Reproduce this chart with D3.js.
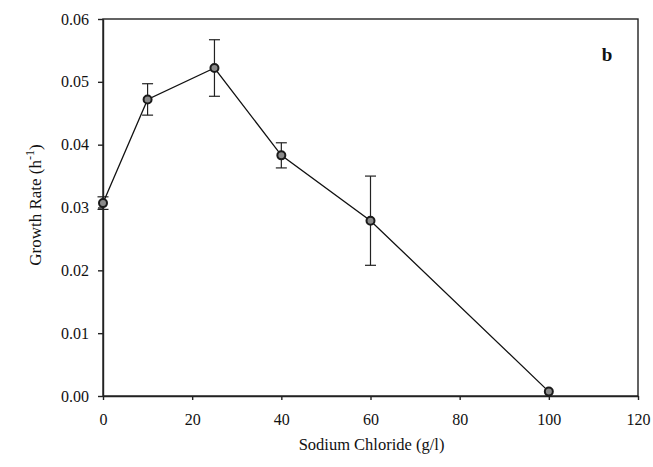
<!DOCTYPE html>
<html>
<head>
<meta charset="utf-8">
<script src="https://cdn.jsdelivr.net/npm/d3@7"></script>
<style>
  html, body { margin: 0; padding: 0; background: #fff; }
  svg { display: block; }
</style>
</head>
<body>
<svg id="chart" width="653" height="467"></svg>
<script>
// Growth rate versus NaCl concentration
const nacl = [0, 10, 25, 40, 60, 100];
const growthRate = [0.0307, 0.0472, 0.0522, 0.0383, 0.0279, 0.0007];
const stdErr = [0.0010, 0.0025, 0.0045, 0.0020, 0.0071, 0.0000];
const xTicks = [0, 20, 40, 60, 80, 100, 120];
const yTicks = [0.00, 0.01, 0.02, 0.03, 0.04, 0.05, 0.06];

const FONT = '"Liberation Serif", "Times New Roman", serif';
const margin = { left: 103, top: 19, right: 15, bottom: 71 };
const W = 653, H = 467;
const svg = d3.select("#chart");

const x = d3.scaleLinear().domain([0, 120]).range([margin.left, W - margin.right]);
const y = d3.scaleLinear().domain([0, 0.06]).range([H - margin.bottom, margin.top]);

// frame
svg.append("rect")
  .attr("x", x(0)).attr("y", y(0.06))
  .attr("width", x(120) - x(0)).attr("height", y(0) - y(0.06))
  .attr("fill", "none").attr("stroke", "#222").attr("stroke-width", 1.4);

// axes
const xAxis = svg.append("g")
  .attr("transform", `translate(0,${y(0)})`)
  .call(d3.axisBottom(x).tickValues(xTicks).tickFormat(d3.format("d")).tickSizeOuter(0).tickSizeInner(4).tickPadding(14));
const yAxis = svg.append("g")
  .attr("transform", `translate(${x(0)},0)`)
  .call(d3.axisLeft(y).tickValues(yTicks).tickFormat(d3.format(".2f")).tickSizeOuter(0).tickSizeInner(5).tickPadding(9));

[xAxis, yAxis].forEach(g => {
  g.attr("font-family", null).attr("font-size", null);
  g.select(".domain").attr("stroke", "#222").attr("stroke-width", 1.4);
  g.selectAll(".tick line").attr("stroke", "#222").attr("stroke-width", 1.4);
  g.selectAll(".tick text")
    .style("font-family", FONT).style("font-size", "16px").attr("fill", "#111");
});

// axis titles
svg.append("text")
  .attr("x", (x(0) + x(120)) / 2 + 1).attr("y", 450)
  .attr("text-anchor", "middle")
  .style("font-family", FONT).style("font-size", "16.5px").attr("fill", "#111")
  .text("Sodium Chloride (g/l)");

const yt = svg.append("text")
  .attr("transform", `translate(41,205) rotate(-90)`)
  .attr("text-anchor", "middle")
  .style("font-family", FONT).style("font-size", "17px").attr("fill", "#111");
yt.append("tspan").text("Growth Rate (h");
yt.append("tspan").attr("dy", -7).style("font-size", "12px").text("-1");
yt.append("tspan").attr("dy", 7).text(")");

// panel label
svg.append("text")
  .attr("x", 607).attr("y", 61)
  .attr("text-anchor", "middle")
  .style("font-family", FONT).style("font-size", "19px").style("font-weight", "bold").attr("fill", "#111")
  .text("b");

const data = nacl.map((v, i) => ({ x: v, y: growthRate[i], e: stdErr[i] }));

// error bars
const eb = svg.append("g").attr("stroke", "#222").attr("stroke-width", 1.2);
data.filter(d => d.e > 0).forEach(d => {
  const cx = x(d.x), cap = 5.5;
  eb.append("line").attr("x1", cx).attr("x2", cx).attr("y1", y(d.y - d.e)).attr("y2", y(d.y + d.e));
  eb.append("line").attr("x1", cx - cap).attr("x2", cx + cap).attr("y1", y(d.y + d.e)).attr("y2", y(d.y + d.e));
  eb.append("line").attr("x1", cx - cap).attr("x2", cx + cap).attr("y1", y(d.y - d.e)).attr("y2", y(d.y - d.e));
});

// connecting line
svg.append("path")
  .datum(data)
  .attr("fill", "none").attr("stroke", "#111").attr("stroke-width", 1.3)
  .attr("d", d3.line().x(d => x(d.x)).y(d => y(d.y)));

// markers
svg.append("g").selectAll("circle")
  .data(data).join("circle")
  .attr("cx", d => x(d.x)).attr("cy", d => y(d.y)).attr("r", 4)
  .attr("fill", "#8a8a8a").attr("stroke", "#1a1a1a").attr("stroke-width", 2);
</script>
</body>
</html>
